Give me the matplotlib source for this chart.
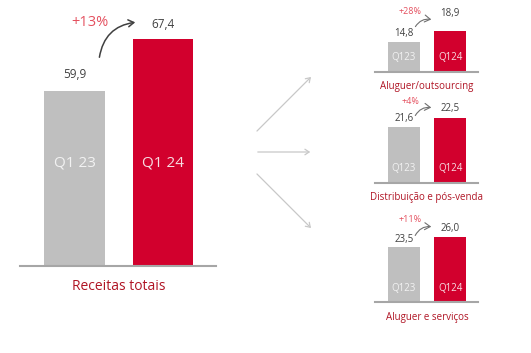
import matplotlib
matplotlib.use("Agg")
import matplotlib.pyplot as plt
from matplotlib.patches import FancyArrowPatch

plt.rcParams["font.family"] = ["Open Sans", "DejaVu Sans"]

# data
quarters = ["Q1 23", "Q1 24"]
quarters_small = ["Q123", "Q124"]
total_values = [59.9, 67.4]
total_growth = "+13%"
total_title = "Receitas totais"

seg_names = ["Aluguer/outsourcing", "Distribuição e pós-venda", "Aluguer e serviços"]
seg_q123 = [14.8, 21.6, 23.5]
seg_q124 = [18.9, 22.5, 26.0]
seg_growth = ["+28%", "+4%", "+11%"]

GREY = "#bfbfbf"
RED = "#d2002d"
DARKRED = "#b01525"
PCT = "#e4505f"
NUM = "#404040"

W, H = 531, 353
fig = plt.figure(figsize=(W / 100, H / 100), dpi=100)


def box(x0, x1, ytop, ybase):
    # pixel box (y measured from top) -> figure fraction
    return [x0 / W, 1 - ybase / H, (x1 - x0) / W, (ybase - ytop) / H]


def fig_xy(px, py):
    return (px / W, 1 - py / H)


def fmt(v):
    return f"{v:.1f}".replace(".", ",")


def bar_panel(rect, vals, ylim, qlabels, qsize, qy, numsize, offs, title, tsize, tpad):
    ax = fig.add_axes(rect)
    ax.bar([0, 1], vals, width=0.69, color=[GREY, RED])
    ax.set_xlim(-0.62, 1.6)
    ax.set_ylim(*ylim)
    ax.axis("off")
    ax.axhline(ylim[0], color="#a6a6a6", lw=1.5, clip_on=False)
    for i, v in enumerate(vals):
        ax.annotate(fmt(v), (i, v), xytext=(0, offs[i]), textcoords="offset pixels",
                    ha="center", va="center", fontsize=numsize, color=NUM)
        ax.annotate(qlabels[i], (i, ylim[0]), xytext=(0, qy), textcoords="offset pixels",
                    ha="center", va="center", fontsize=qsize,
                    color="#f2f2f2" if i == 0 else "#f7dde2")
    ax.annotate(title, (0.5, ylim[0]), xytext=(0, -tpad), textcoords="offset pixels",
                ha="center", va="center", fontsize=tsize, color=DARKRED)
    return ax


def curved_arrow(p0, p1, color, lw):
    a = FancyArrowPatch(fig_xy(*p0), fig_xy(*p1), transform=fig.transFigure,
                        connectionstyle="arc3,rad=-0.4", arrowstyle="->,head_length=4,head_width=2.5",
                        color=color, lw=lw)
    fig.patches.append(a)


# main chart
bar_panel(box(20, 216, 0, 266), total_values, (34.5, 73.1), quarters, 11, 103,
          8.5, [16, 15], total_title, 10, 21)
fig.text(*fig_xy(90, 22), total_growth, ha="center", va="center", fontsize=10.5, color=PCT)
curved_arrow((99, 60), (138, 22), "#404040", 1.1)

# segment charts
seg_boxes = [(0, 71.7), (95, 182.7), (210, 302.3)]
seg_ylims = [(4.4, 29.7), (15.6, 25.0), (9.75, 32.8)]
seg_offs = [[9, 17], [8, 10], [8, 9]]
pct_pos = [(410, 12), (410, 102), (410, 220)]
arrows = [((414, 29), (434, 20)), ((414, 118), (434, 108)), ((414, 238), (434, 227))]
for k in range(3):
    top, base = seg_boxes[k]
    bar_panel(box(375, 478, top, base), [seg_q123[k], seg_q124[k]], seg_ylims[k],
              quarters_small, 7, 14, 7, seg_offs[k], seg_names[k], 7, 15)
    fig.text(*fig_xy(*pct_pos[k]), seg_growth[k], ha="center", va="center", fontsize=6.5, color=PCT)
    curved_arrow(arrows[k][0], arrows[k][1], "#707070", 0.8)

# connector arrows
for end in [(313, 75), (313, 152), (313, 230)]:
    start = (255, 133) if end[1] < 100 else ((255, 152) if end[1] < 200 else (255, 172))
    a = FancyArrowPatch(fig_xy(*start), fig_xy(*end), transform=fig.transFigure,
                        arrowstyle="->,head_length=3,head_width=2", color="#c8c8c8", lw=0.9)
    fig.patches.append(a)

fig.savefig("out.png", dpi=100, facecolor="white")
